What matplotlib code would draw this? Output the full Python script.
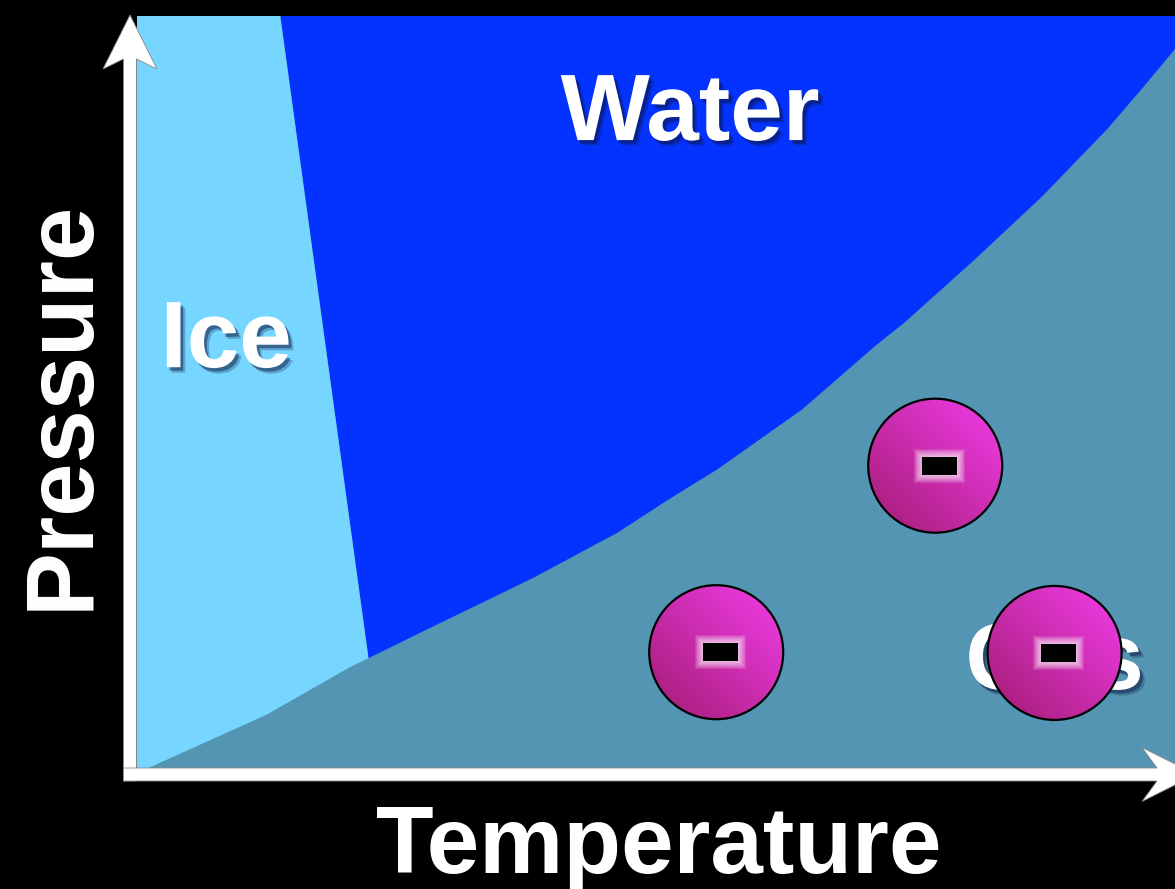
import matplotlib
matplotlib.use("Agg")
import matplotlib.pyplot as plt
import matplotlib.patheffects as pe
from matplotlib.patches import Circle, Polygon, Rectangle
import numpy as np

# phase boundaries, temperature / pressure in arbitrary units (0..100)
vapor_T = [22.3, 27.9, 38.2, 46.3, 51.2, 55.9, 64.1, 71.1, 74.0, 80.7, 87.2, 93.5, 96.8, 100.0]
vapor_P = [14.6, 18.4, 25.3, 31.3, 35.7, 39.7, 47.7, 56.1, 59.3, 67.6, 76.0, 85.0, 90.3, 95.6]
subl_T = [1.1, 12.5, 20.5, 22.3]
subl_P = [0.0, 7.1, 13.4, 14.6]
fusion_T = [22.3, 13.8]
fusion_P = [14.6, 100.0]

# electrons drifting in the gas phase
electron_T = [76.9, 55.8, 88.4]
electron_P = [40.2, 15.4, 15.3]

region_labels = ["Water", "Ice", "Gas"]
region_T = [53.3, 8.6, 88.4]
region_P = [83.5, 53.3, 10.5]

ICE = "#76D6FF"
WATER = "#0433FF"
GAS = "#5395B2"

W, H = 1175, 889
fig = plt.figure(figsize=(W / 100, H / 100), dpi=100, facecolor="black")

# plot box in pixels (left, bottom, right, top), y up
L, B, R, T = 137, 121, 1175, 873
ax = fig.add_axes([L / W, B / H, (R - L) / W, (T - B) / H])
ax.set_xlim(0, 100)
ax.set_ylim(0, 100)
ax.set_facecolor(GAS)
ax.set_xticks([])
ax.set_yticks([])
for s in ax.spines.values():
    s.set_visible(False)

# water: above vapour curve, right of fusion line
water_x = fusion_T[::-1] + vapor_T[1:] + [100.0]
water_y = fusion_P[::-1] + vapor_P[1:] + [100.0]
ax.fill(water_x, water_y, color=WATER, lw=0, zorder=1)

# ice: left of fusion line, above sublimation curve
ice_x = [0, 0] + fusion_T[::-1] + subl_T[::-1][1:]
ice_y = [0, 100] + fusion_P[::-1] + subl_P[::-1][1:]
ax.fill(ice_x, ice_y, color=ICE, lw=0, zorder=2)

# overlay in figure pixels for arrows, labels and electrons
ov = fig.add_axes([0, 0, 1, 1])
ov.set_xlim(0, W)
ov.set_ylim(0, H)
ov.axis("off")

shaft = 13
# y axis arrow
x0 = L - shaft / 2 - 0.5
yax = [(x0 - shaft / 2, B - shaft), (x0 + shaft / 2, B - shaft), (x0 + shaft / 2, H - 59),
       (x0 + 27, H - 69), (x0, H - 15), (x0 - 27, H - 69), (x0 - shaft / 2, H - 59)]
ov.add_patch(Polygon(yax, closed=True, fc="white", ec="#888888", lw=0.6, zorder=5))
# x axis arrow
y0 = B - shaft / 2
xax = [(x0 - shaft / 2, y0 + shaft / 2), (x0 - shaft / 2, y0 - shaft / 2), (1157, y0 - shaft / 2),
       (1142, y0 - 27), (1196, y0), (1142, y0 + 27), (1157, y0 + shaft / 2)]
ov.add_patch(Polygon(xax, closed=True, fc="white", ec="#888888", lw=0.6, zorder=5))

font = dict(family=["Liberation Sans", "DejaVu Sans"], weight="bold", color="white")
ov.text(659, H - 873, "Temperature", fontsize=68, ha="center", va="baseline", zorder=6, **font)
ov.text(88, H - 405, "Pressure", fontsize=69, ha="center", va="baseline", rotation=90,
        rotation_mode="anchor", zorder=6, **font)

shadow = [pe.SimplePatchShadow(offset=(3.5, -4), shadow_rgbFace="#0a1640", alpha=0.25),
          pe.SimplePatchShadow(offset=(2, -2.5), shadow_rgbFace="#0a1640", alpha=0.45),
          pe.Normal()]
for lab, tx, py in zip(region_labels, region_T, region_P):
    ax.text(tx, py, lab, fontsize=68, ha="center", va="baseline", zorder=4,
            path_effects=shadow, **font)

# electrons
r = 67
n = 200
ii, jj = np.mgrid[0:n, 0:n]
g = (ii + jj) / (2 * (n - 1))
bright = np.array([0.95, 0.24, 0.92])
dark = np.array([0.64, 0.11, 0.45])
grad = dark + (bright - dark) * g[..., None]
centers = ax.transData.transform(np.column_stack([electron_T, electron_P]))
for cx, cy in centers:
    circ = Circle((cx, cy), r, fc="none", ec="black", lw=1.6, zorder=8)
    ov.add_patch(circ)
    im = ov.imshow(grad, origin="lower", extent=(cx - r, cx + r, cy - r, cy + r),
                   zorder=7, interpolation="bilinear", aspect="auto")
    im.set_clip_path(circ)
    mx = cx + 4
    for k in range(8, 0, -1):
        ov.add_patch(Rectangle((mx - 17.5 - k, cy - 9 - k), 35 + 2 * k, 18 + 2 * k,
                               fc="white", ec="none", alpha=0.12, zorder=9))
    ov.add_patch(Rectangle((mx - 17.5, cy - 9), 35, 18, fc="black", ec="none", zorder=10))

ov.set_xlim(0, W)
ov.set_ylim(0, H)

fig.savefig("out.png", dpi=100, facecolor="black")
